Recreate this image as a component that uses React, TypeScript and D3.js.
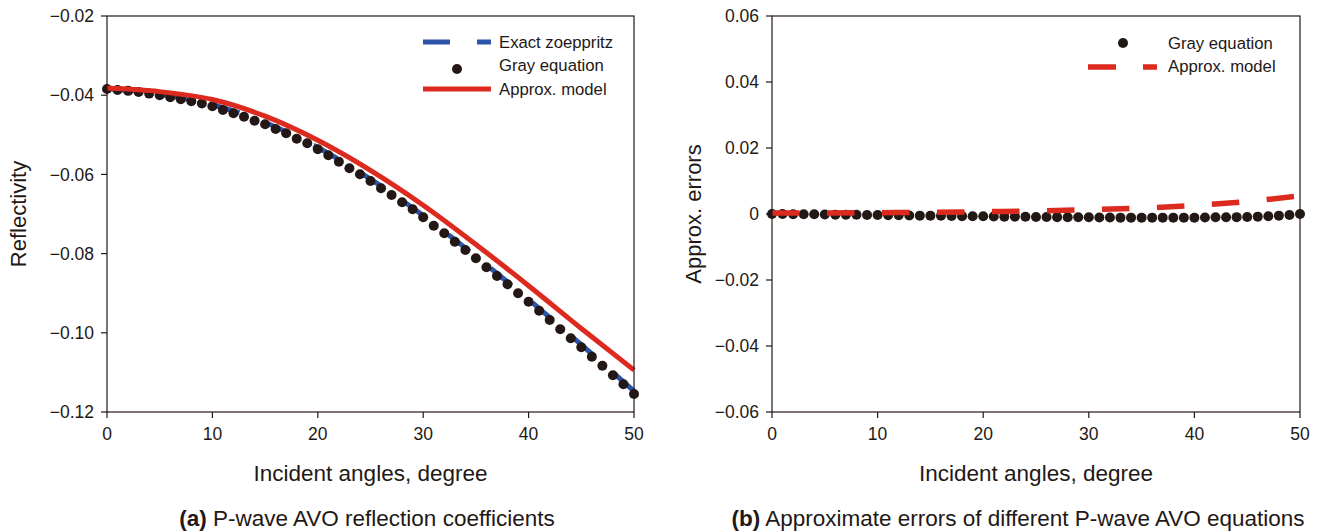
import React from "react";
import * as d3 from "d3";

// ---------- data ----------
const angles = d3.range(0, 51); // 0..50 degrees, one Gray point per degree
const grayReflectivity = [
  -0.03843, -0.0387, -0.0389, -0.0392, -0.0396, -0.04, -0.0405, -0.041, -0.0415, -0.0421,
  -0.0428, -0.04374, -0.04457, -0.04542, -0.04643, -0.04735, -0.04854, -0.04962, -0.05098, -0.05215,
  -0.05366, -0.05518, -0.05679, -0.05846, -0.05998, -0.06167, -0.06351, -0.0652, -0.06705, -0.06881,
  -0.07083, -0.07295, -0.07487, -0.07699, -0.07909, -0.08119, -0.08346, -0.08566, -0.08775, -0.09003,
  -0.09215, -0.09442, -0.09677, -0.09912, -0.10139, -0.10366, -0.10604, -0.10831, -0.11073, -0.11301,
  -0.11545,
];
const curveAngles = [0, 5, 10, 15, 20, 25, 30, 35, 40, 45, 50];
const exactZoeppritz = [-0.0383, -0.0398, -0.0424, -0.0469, -0.0532, -0.0612, -0.0704, -0.0807, -0.0916, -0.103, -0.1147];
const approxModel = [-0.0382, -0.0391, -0.0411, -0.0453, -0.0514, -0.059, -0.0678, -0.0777, -0.0881, -0.0989, -0.1094];

const grayError = [
  0, 0, -0.00005, -0.0001, -0.0001, -0.00015, -0.0002, -0.0002, -0.00025, -0.0003,
  -0.0003, -0.00035, -0.0004, -0.00045, -0.0005, -0.0005, -0.00055, -0.0006, -0.00065, -0.0007,
  -0.0007, -0.00075, -0.0008, -0.0008, -0.00085, -0.0009, -0.0009, -0.00095, -0.001, -0.001,
  -0.001, -0.00105, -0.00105, -0.0011, -0.0011, -0.0011, -0.0011, -0.0011, -0.0011, -0.0011,
  -0.0011, -0.00105, -0.001, -0.001, -0.00095, -0.0009, -0.0008, -0.0007, -0.0005, -0.0003,
  0,
];
const approxError = [0.0003, 0.0003, 0.0004, 0.0005, 0.0007, 0.0009, 0.0013, 0.0018, 0.0026, 0.0038, 0.0055];

const xTicks = [0, 10, 20, 30, 40, 50];
const leftYTicks = [-0.02, -0.04, -0.06, -0.08, -0.1, -0.12];
const rightYTicks = [0.06, 0.04, 0.02, 0, -0.02, -0.04, -0.06];

// ---------- style ----------
const FONT = "'Liberation Sans', Arial, Helvetica, sans-serif";
const INK = "#231815";
const BLUE = "#2b53a7";
const RED = "#dc2a1f";
const TICK_FS = 17.5;
const TITLE_FS = 22.5;
const LEGEND_FS = 16.7;

const minus = (s: string) => s.replace("-", "\u2212");

type PanelProps = {
  x0: number;
  x1: number;
  y0: number;
  y1: number;
  yDomain: [number, number];
  yTicks: number[];
  yFmt: (v: number) => string;
  yTitle: string;
  yTitleX: number;
  children: (xs: d3.ScaleLinear<number, number>, ys: d3.ScaleLinear<number, number>) => React.ReactNode;
  captionBold: string;
  caption: string;
  captionX: number;
};

function Panel(p: PanelProps) {
  const xs = d3.scaleLinear().domain([0, 50]).range([p.x0, p.x1]);
  const ys = d3.scaleLinear().domain(p.yDomain).range([p.y1, p.y0]);
  const cx = (p.x0 + p.x1) / 2;
  return (
    <g>
      {p.children(xs, ys)}
      <rect x={p.x0} y={p.y0} width={p.x1 - p.x0} height={p.y1 - p.y0} fill="none" stroke={INK} strokeWidth={1.2} />
      {xTicks.map((t) => (
        <g key={"x" + t}>
          <line x1={xs(t)} x2={xs(t)} y1={p.y1} y2={p.y1 + 6} stroke={INK} strokeWidth={1.2} />
          <text x={xs(t)} y={p.y1 + 22} dy="0.35em" textAnchor="middle" fontSize={TICK_FS} fill={INK}>
            {t}
          </text>
        </g>
      ))}
      {p.yTicks.map((t) => (
        <g key={"y" + t}>
          <line x1={p.x0 - 6} x2={p.x0} y1={ys(t)} y2={ys(t)} stroke={INK} strokeWidth={1.2} />
          <text x={p.x0 - 13} y={ys(t)} dy="0.35em" textAnchor="end" fontSize={TICK_FS} fill={INK}>
            {p.yFmt(t)}
          </text>
        </g>
      ))}
      <text x={cx} y={p.y1 + 61} dy="0.35em" textAnchor="middle" fontSize={TITLE_FS} fill={INK}>
        Incident angles, degree
      </text>
      <text
        transform={`translate(${p.yTitleX},${(p.y0 + p.y1) / 2}) rotate(-90)`}
        dy="0.35em"
        textAnchor="middle"
        fontSize={22}
        fill={INK}
      >
        {p.yTitle}
      </text>
      <text x={p.captionX} y={p.y1 + 106} dy="0.35em" textAnchor="middle" fontSize={TITLE_FS} fill={INK}>
        <tspan fontWeight="bold">{p.captionBold}</tspan> {p.caption}
      </text>
    </g>
  );
}

export default function App() {
  const W = 1320;
  const H = 532;
  const top = 16;
  const bottom = 412;

  return (
    <svg
      width={W}
      height={H}
      style={{ position: "absolute", left: 0, top: 0, background: "#fff" }}
      fontFamily={FONT}
    >
      <rect width={W} height={H} fill="#fff" />
      <Panel
        x0={107}
        x1={634}
        y0={top}
        y1={bottom}
        yDomain={[-0.12, -0.02]}
        yTicks={leftYTicks}
        yFmt={(v) => minus(d3.format(".2f")(v))}
        yTitle="Reflectivity"
        yTitleX={18}
        captionBold="(a)"
        caption="P-wave AVO reflection coefficients"
        captionX={367}
      >
        {(xs, ys) => {
          const line = d3
            .line<number>()
            .x((_, i) => xs(curveAngles[i]))
            .y((d) => ys(d))
            .curve(d3.curveMonotoneX);
          return (
            <g>
              <path d={line(exactZoeppritz) || ""} fill="none" stroke={BLUE} strokeWidth={5} strokeDasharray="27 27" />
              {angles.map((a, i) => (
                <circle key={a} cx={xs(a)} cy={ys(grayReflectivity[i])} r={5} fill={INK} />
              ))}
              <path d={line(approxModel) || ""} fill="none" stroke={RED} strokeWidth={5} />
              {/* legend */}
              <line x1={423} x2={491} y1={42} y2={42} stroke={BLUE} strokeWidth={5} strokeDasharray="27 27" />
              <text x={499} y={42} dy="0.35em" fontSize={LEGEND_FS} fill={INK}>Exact zoeppritz</text>
              <circle cx={457} cy={69} r={5} fill={INK} />
              <text x={499} y={65} dy="0.35em" fontSize={LEGEND_FS} fill={INK}>Gray equation</text>
              <line x1={423} x2={491} y1={89} y2={89} stroke={RED} strokeWidth={5} />
              <text x={499} y={89} dy="0.35em" fontSize={LEGEND_FS} fill={INK}>Approx. model</text>
            </g>
          );
        }}
      </Panel>
      <Panel
        x0={772}
        x1={1300}
        y0={top}
        y1={bottom}
        yDomain={[-0.06, 0.06]}
        yTicks={rightYTicks}
        yFmt={(v) => (v === 0 ? "0" : minus(d3.format(".2f")(v)))}
        yTitle="Approx. errors"
        yTitleX={693}
        captionBold="(b)"
        caption="Approximate errors of different P-wave AVO equations"
        captionX={1018}
      >
        {(xs, ys) => {
          const line = d3
            .line<number>()
            .x((_, i) => xs(curveAngles[i]))
            .y((d) => ys(d))
            .curve(d3.curveMonotoneX);
          return (
            <g>
              {angles.map((a, i) => (
                <circle key={a} cx={xs(a)} cy={ys(grayError[i])} r={5} fill={INK} />
              ))}
              <path d={line(approxError) || ""} fill="none" stroke={RED} strokeWidth={5.5} strokeDasharray="27.5 27.5" />
              {/* legend */}
              <circle cx={1123} cy={43} r={5} fill={INK} />
              <text x={1168} y={43} dy="0.35em" fontSize={LEGEND_FS} fill={INK}>Gray equation</text>
              <line x1={1088} x2={1157} y1={67} y2={67} stroke={RED} strokeWidth={5.5} strokeDasharray="28 27" />
              <text x={1168} y={66} dy="0.35em" fontSize={LEGEND_FS} fill={INK}>Approx. model</text>
            </g>
          );
        }}
      </Panel>
    </svg>
  );
}
